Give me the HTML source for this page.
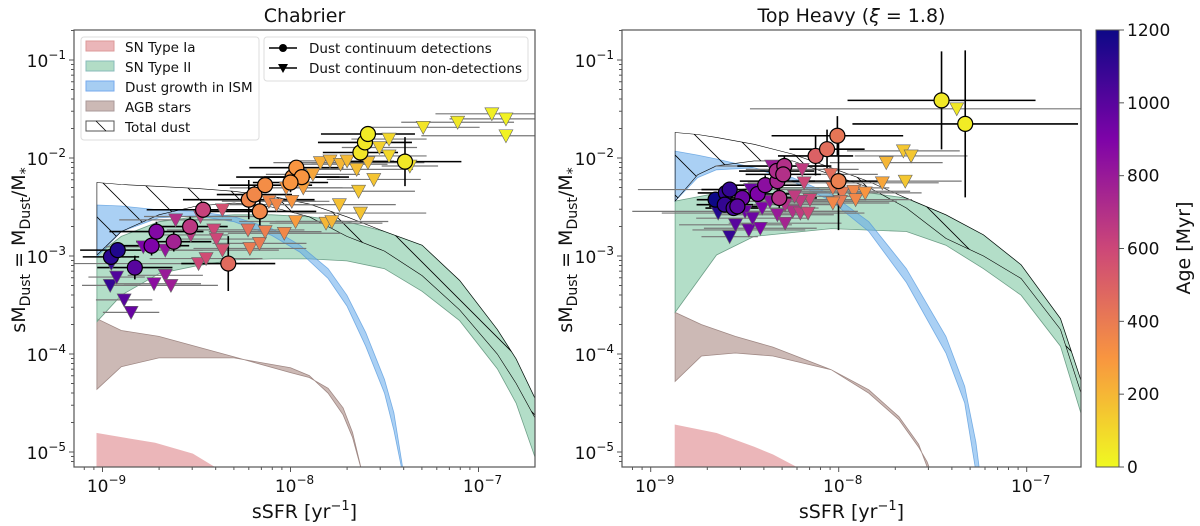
<!DOCTYPE html>
<html><head><meta charset="utf-8">
<style>
html,body{margin:0;padding:0;background:#fff;}
svg{display:block;font-family:"DejaVu Sans","Liberation Sans",sans-serif;}
</style></head>
<body>
<svg id="fig" width="1200" height="526" viewBox="0 0 1200 526" xmlns="http://www.w3.org/2000/svg">
<defs>
<pattern id="hatch" patternUnits="userSpaceOnUse" width="40" height="40">
<path d="M-10,-10 L50,50 M-10,30 L10,50 M30,-10 L50,10" stroke="#000" stroke-width="0.8"/>
</pattern>
<linearGradient id="cbgrad" x1="0" y1="1" x2="0" y2="0">
<stop offset="0" stop-color="#f0f921"/><stop offset="0.25" stop-color="#f89540"/>
<stop offset="0.5" stop-color="#cc4778"/><stop offset="0.75" stop-color="#7e03a8"/>
<stop offset="1" stop-color="#0d0887"/>
</linearGradient>
<clipPath id="clipL"><rect x="74" y="30" width="461" height="437"/></clipPath>
<clipPath id="clipR"><rect x="622" y="30" width="459" height="437"/></clipPath>
</defs>
</svg>
<script>
// ---------- data (log10 sSFR, log10 sMdust) ----------
const L_ia_x=[-9.03,-8.72,-8.52,-8.4];
const L_ia_hi=[-4.81,-4.91,-5.02,-5.16];
const L_agb_x=[-9.03,-8.9,-8.7,-8.3,-8.0,-7.9,-7.8,-7.72,-7.67,-7.62];
const L_agb_hi=[-3.64,-3.76,-3.82,-4.03,-4.19,-4.24,-4.35,-4.55,-4.80,-5.2];
const L_agb_lo=[-4.36,-4.13,-4.04,-4.04,-4.14,-4.22,-4.40,-4.62,-4.85,-5.2];
const L_sn2_x=[-9.03,-8.9,-8.7,-8.5,-8.3,-8.1,-7.9,-7.7,-7.5,-7.3,-7.1,-6.9,-6.8,-6.7];
const L_sn2_hi=[-2.99,-2.80,-2.65,-2.60,-2.58,-2.58,-2.60,-2.65,-2.75,-2.89,-3.25,-3.75,-4.05,-4.45];
const L_sn2_lo=[-3.67,-3.40,-3.18,-3.10,-3.04,-3.03,-3.03,-3.05,-3.13,-3.36,-3.66,-4.15,-4.5,-5.05];
const L_ism_x=[-9.03,-8.9,-8.7,-8.5,-8.3,-8.1,-7.95,-7.8,-7.7,-7.6,-7.5,-7.45,-7.4];
const L_ism_hi=[-2.48,-2.49,-2.53,-2.545,-2.60,-2.72,-2.89,-3.13,-3.40,-3.78,-4.26,-4.6,-5.2];
const L_ism_lo=[-3.01,-2.75,-2.61,-2.59,-2.65,-2.79,-2.96,-3.23,-3.51,-3.92,-4.40,-4.78,-5.25];
const L_tot_x=[-9.03,-8.9,-8.7,-8.5,-8.3,-8.1,-7.9,-7.7,-7.5,-7.3,-7.1,-6.9,-6.8,-6.7];
const L_tot_hi=[-2.25,-2.27,-2.29,-2.31,-2.34,-2.39,-2.47,-2.60,-2.75,-2.89,-3.25,-3.75,-4.05,-4.45];
const L_tot_lo=[-2.99,-2.75,-2.58,-2.49,-2.46,-2.50,-2.60,-2.80,-2.95,-3.2,-3.55,-4.0,-4.3,-4.65];
const R_ia_x=[-8.87,-8.65,-8.45,-8.35,-8.22];
const R_ia_hi=[-4.725,-4.81,-4.95,-5.03,-5.16];
const R_agb_x=[-8.87,-8.73,-8.55,-8.35,-8.04,-7.84,-7.68,-7.575,-7.53,-7.51];
const R_agb_hi=[-3.575,-3.70,-3.82,-3.93,-4.16,-4.40,-4.67,-4.95,-5.1,-5.2];
const R_agb_lo=[-4.28,-4.02,-3.99,-4.02,-4.16,-4.365,-4.64,-4.92,-5.15,-5.2];
const R_sn2_x=[-8.87,-8.65,-8.45,-8.04,-7.64,-7.43,-7.23,-7.03,-6.82,-6.706];
const R_sn2_hi=[-2.44,-2.36,-2.30,-2.30,-2.41,-2.58,-2.785,-3.09,-3.64,-4.30];
const R_sn2_lo=[-3.575,-2.99,-2.80,-2.72,-2.75,-2.89,-3.13,-3.40,-3.92,-4.64];
const R_ism_x=[-8.87,-8.75,-8.65,-8.45,-8.245,-8.04,-7.84,-7.64,-7.43,-7.33,-7.27,-7.25];
const R_ism_hi=[-1.93,-1.97,-2.01,-2.10,-2.20,-2.37,-2.65,-3.13,-3.82,-4.33,-4.9,-5.2];
const R_ism_lo=[-2.44,-2.20,-2.12,-2.10,-2.24,-2.44,-2.75,-3.27,-3.99,-4.50,-5.2,-5.3];
const R_tot_x=[-8.87,-8.75,-8.65,-8.45,-8.245,-8.04,-7.84,-7.64,-7.43,-7.23,-7.03,-6.82,-6.706];
const R_tot_hi=[-1.74,-1.76,-1.79,-1.86,-1.96,-2.10,-2.24,-2.41,-2.58,-2.785,-3.09,-3.64,-4.30];
const R_tot_lo=[-2.44,-2.17,-2.08,-2.03,-2.03,-2.17,-2.30,-2.51,-2.82,-3.0,-3.23,-3.75,-4.43];
const L_det_x=[-8.955,-8.919,-8.828,-8.739,-8.713,-8.621,-8.534,-8.465,-8.331,-8.222,-8.192,-8.163,-8.135,-7.989,-7.969,-7.940,-8.0,-7.628,-7.604,-7.588,-7.391];
const L_det_y=[-3.009,-2.940,-3.118,-2.895,-2.751,-2.854,-2.700,-2.528,-3.077,-2.425,-2.373,-2.545,-2.277,-2.195,-2.099,-2.195,-2.25,-1.944,-1.841,-1.755,-2.037];
const L_det_age=[1120,1150,1000,900,880,760,660,620,460,360,350,350,330,310,300,300,300,60,50,40,50];
const L_det_xerr=[0.15,0.2,0.2,0.2,0.25,0.2,0.2,0.3,0.25,0.35,0.2,0.3,0.25,0.3,0.25,0.2,0.2,0.2,0.25,0.25,0.3];
const L_det_yerr=[0.08,0.07,0.12,0.1,0.1,0.1,0.1,0.08,0.28,0.2,0.1,0.15,0.08,0.1,0.07,0.1,0.1,0.1,0.08,0.08,0.25];
const L_nd_x=[-8.959,-8.925,-8.885,-8.848,-8.953,-8.783,-8.726,-8.666,-8.636,-8.666,-8.611,-8.530,-8.479,-8.408,-8.394,-8.362,-8.362,-8.489,-8.449,-8.226,-8.216,-8.165,-8.135,-8.033,-8.115,-8.074,-7.993,-7.973,-7.932,-7.881,-8.023,-7.841,-7.790,-7.734,-7.699,-7.648,-7.588,-7.557,-7.638,-7.740,-7.628,-7.811,-7.780,-7.527,-7.476,-7.476,-7.365,-7.294,-7.111,-6.929,-6.854,-6.854];
const L_nd_y=[-3.300,-3.215,-3.448,-3.575,-3.077,-2.906,-3.283,-3.197,-3.300,-2.940,-2.631,-2.785,-2.597,-2.734,-2.827,-2.528,-2.940,-3.077,-3.026,-2.734,-2.923,-2.871,-2.751,-2.768,-2.442,-2.476,-2.442,-2.648,-2.305,-2.167,-2.305,-2.047,-2.030,-2.064,-2.030,-2.116,-2.047,-2.219,-2.339,-2.476,-2.562,-2.665,-2.648,-1.893,-1.807,-1.979,-2.082,-1.687,-1.635,-1.549,-1.601,-1.773];
const L_nd_age=[1100,1020,1000,960,1100,900,850,800,780,820,700,660,640,600,600,560,560,600,580,440,400,400,380,350,350,350,300,280,270,250,300,220,200,200,190,180,170,160,150,170,160,200,200,120,100,100,80,60,50,30,20,20];
const L_nd_xerr=[0.15,0.15,0.15,0.15,0.4,0.2,0.25,0.2,0.25,0.2,0.3,0.2,0.3,0.25,0.25,0.2,0.3,0.3,0.3,0.3,0.3,0.25,0.3,0.3,0.25,0.25,0.2,0.3,0.3,0.25,0.3,0.25,0.2,0.25,0.25,0.3,0.3,0.25,0.3,0.3,0.35,0.3,0.3,0.2,0.2,0.2,0.15,0.3,0.3,0.3,0.3,0.45];
const R_det_x=[-8.655,-8.600,-8.606,-8.559,-8.513,-8.580,-8.539,-8.431,-8.391,-8.326,-8.316,-8.330,-8.289,-8.295,-8.123,-8.062,-8.007,-8.001,-7.453,-7.327];
const R_det_y=[-2.425,-2.356,-2.476,-2.511,-2.408,-2.322,-2.494,-2.367,-2.277,-2.236,-2.408,-2.133,-2.082,-2.167,-1.979,-1.910,-1.773,-2.236,-1.412,-1.652];
const R_det_age=[1200,1100,1100,1050,950,1100,1000,900,850,750,700,720,700,700,500,450,420,380,50,40];
const R_det_xerr=[0.1,0.15,0.15,0.15,0.15,0.15,0.15,0.2,0.2,0.2,0.2,0.2,0.25,0.2,0.2,0.2,0.35,0.25,0.5,0.6];
const R_det_yerr=[0.08,0.08,0.08,0.08,0.08,0.08,0.08,0.08,0.1,0.1,0.1,0.1,0.1,0.1,0.2,0.2,0.2,0.5,0.5,0.75];
const R_nd_x=[-8.641,-8.580,-8.549,-8.478,-8.417,-8.468,-8.498,-8.407,-8.366,-8.356,-8.326,-8.285,-8.245,-8.204,-8.163,-8.153,-8.204,-8.184,-8.194,-8.042,-8.031,-7.981,-7.991,-8.031,-7.920,-7.910,-7.859,-7.768,-7.747,-7.656,-7.615,-7.646,-7.372,-8.235,-8.285,-8.458];
const R_nd_y=[-2.562,-2.803,-2.682,-2.734,-2.717,-2.322,-2.545,-2.511,-2.442,-2.082,-2.579,-2.665,-2.545,-2.562,-2.562,-2.425,-2.442,-2.253,-2.116,-2.167,-2.305,-2.356,-2.442,-2.459,-2.339,-2.425,-2.356,-2.253,-2.047,-1.927,-1.979,-2.236,-1.498,-2.391,-2.476,-2.614];
const R_nd_age=[1150,1100,1000,950,900,950,950,900,850,800,800,750,700,650,600,600,650,600,650,450,400,400,400,350,350,350,300,250,200,150,150,150,50,650,700,950];
const R_nd_xerr=[0.3,0.15,0.3,0.3,0.3,0.6,0.6,0.3,0.3,0.3,0.3,0.3,0.3,0.3,0.3,0.3,0.3,0.3,0.3,0.25,0.3,0.3,0.3,0.3,0.3,0.3,0.3,0.3,0.3,0.3,0.3,0.3,1.1,0.3,0.3,0.3];

const NS='http://www.w3.org/2000/svg';
const svg=document.getElementById('fig');
function el(tag,attrs,parent){const e=document.createElementNS(NS,tag);for(const k in attrs)e.setAttribute(k,attrs[k]);(parent||svg).appendChild(e);return e;}
const Y0=60, YD=98;
function ys(v){return Y0+(-1-v)*YD;}
function mkx(x9){return v=>x9+(v+9)*188;}
function plasma(age){
  const t=1-Math.max(0,Math.min(1200,age))/1200;
  const st=[[13,8,135],[126,3,168],[204,71,120],[248,149,64],[240,249,33]];
  const p=t*4,i=Math.min(3,Math.floor(p)),f=p-i;
  const c=st[i].map((a,k)=>Math.round(a+(st[i+1][k]-a)*f));
  return 'rgb('+c.join(',')+')';
}
function band(g,xs,xa,hi,lo,fill,stroke,name){
  let d='';
  xa.forEach((v,i)=>{d+=(i?'L':'M')+xs(v).toFixed(1)+','+ys(hi[i]).toFixed(1);});
  for(let i=xa.length-1;i>=0;i--){d+='L'+xs(xa[i]).toFixed(1)+','+ys(lo?lo[i]:-5.4).toFixed(1);}
  d+='Z';
  const p=el('path',{d:d,fill:fill,stroke:stroke,'stroke-width':0.8},g);
  
  
  return p;
}
function panel(P){
  const xs=mkx(P.x9);
  const g=el('g',{'clip-path':'url(#'+P.clip+')'});
  
  
  band(g,xs,P.ia[0],P.ia[1],null,'#ebb6b9','#ebb6b9','sn-type-ia-band');
  band(g,xs,P.agb[0],P.agb[1],P.agb[2],'#ccb9b5','#a08985','agb-band');
  band(g,xs,P.sn2[0],P.sn2[1],P.sn2[2],'rgba(138,204,170,0.65)','#6e9f88','sn-type-ii-band');
  band(g,xs,P.ism[0],P.ism[1],P.ism[2],'rgba(100,170,235,0.55)','rgba(80,150,220,0.7)','ism-growth-band');
  band(g,xs,P.tot[0],P.tot[1],P.tot[2],'url(#hatch)','#000','total-dust-band').setAttribute('stroke-width','0.6');
  P.nd[0].forEach((v,i)=>{
    const y=ys(P.nd[1][i]);
    const l=el('line',{x1:xs(v-P.nd[3][i]),x2:xs(v+P.nd[3][i]),y1:y,y2:y,stroke:'#777','stroke-width':1.2},g);
    
    
  });
  P.det[0].forEach((v,i)=>{
    const x=xs(v),y=ys(P.det[1][i]);
    const l=el('path',{d:'M'+xs(v-P.det[3][i])+','+y+'H'+xs(v+P.det[3][i])+'M'+x+','+ys(P.det[1][i]+P.det[4][i])+'V'+ys(P.det[1][i]-P.det[4][i]),stroke:'#000','stroke-width':1.6,fill:'none'},g);
    
    
  });
  P.nd[0].forEach((v,i)=>{
    const x=xs(v),y=ys(P.nd[1][i]);
    const t=el('path',{d:'M'+(x-7)+','+(y-6)+'L'+(x+7)+','+(y-6)+'L'+x+','+(y+7)+'Z',fill:plasma(P.nd[2][i]),stroke:'#666','stroke-width':0.6},g);
    
    
  });
  P.det[0].forEach((v,i)=>{
    const c=el('circle',{cx:xs(v),cy:ys(P.det[1][i]),r:7.5,fill:plasma(P.det[2][i]),stroke:'#000','stroke-width':1.2},g);
    
    
  });
  const fr=el('rect',{x:P.x0,y:30,width:P.x1-P.x0,height:437,fill:'none',stroke:'#555','stroke-width':1.2});
  
  
  for(let d=-10;d<=-7;d++){for(let m=1;m<10;m++){
    const v=d+Math.log10(m),x=xs(v); if(x<P.x0||x>P.x1)continue;
    el('line',{x1:x,x2:x,y1:467,y2:467+(m===1?5:3),stroke:'#555','stroke-width':1});
    if(m===1){const t=el('text',{x:x+4,y:492,'font-size':17,'text-anchor':'middle',fill:'#111'});
      
      t.innerHTML='10<tspan dy="-8" font-size="12">−'+(-d)+'</tspan>';}
  }}
  for(let d=-6;d<=-1;d++){for(let m=1;m<10;m++){
    const v=d+Math.log10(m),y=ys(v); if(y<30||y>467)continue;
    el('line',{x1:P.x0,x2:P.x0-(m===1?5:3),y1:y,y2:y,stroke:'#555','stroke-width':1});
    if(m===1&&P.ylabels){const t=el('text',{x:P.x0-8,y:y+7,'font-size':17,'text-anchor':'end',fill:'#111'});
      
      t.innerHTML='10<tspan dy="-8" font-size="12">−'+(-d)+'</tspan>';}
  }}
  const tt=el('text',{x:(P.x0+P.x1)/2,y:22,'font-size':19,'text-anchor':'middle',fill:'#111'});
  
  tt.innerHTML=P.title;
  const xl=el('text',{x:(P.x0+P.x1)/2,y:518,'font-size':19,'text-anchor':'middle',fill:'#111'});
  
  xl.innerHTML='sSFR [yr<tspan dy="-8" font-size="13">−1</tspan><tspan dy="8">]</tspan>';
  const yl=el('text',{transform:'translate('+P.ylx+',250) rotate(-90)','font-size':19,'text-anchor':'middle',fill:'#111'});
  
  yl.innerHTML='sM<tspan dy="5" font-size="14">Dust</tspan><tspan dy="-5"> = M</tspan><tspan dy="5" font-size="14">Dust</tspan><tspan dy="-5">/M</tspan><tspan dy="5" font-size="14">*</tspan>';
}
panel({name:'chabrier',x0:74,x1:535,x9:102.5,clip:'clipL',title:'Chabrier',ylabels:true,ylx:25,
  ia:[L_ia_x,L_ia_hi],agb:[L_agb_x,L_agb_hi,L_agb_lo],sn2:[L_sn2_x,L_sn2_hi,L_sn2_lo],ism:[L_ism_x,L_ism_hi,L_ism_lo],tot:[L_tot_x,L_tot_hi,L_tot_lo],
  det:[L_det_x,L_det_y,L_det_age,L_det_xerr,L_det_yerr],nd:[L_nd_x,L_nd_y,L_nd_age,L_nd_xerr]});
panel({name:'top-heavy',x0:622,x1:1081,x9:650.7,clip:'clipR',title:'Top Heavy (<tspan font-style="italic">ξ</tspan> = 1.8)',ylabels:true,ylx:572,
  ia:[R_ia_x,R_ia_hi],agb:[R_agb_x,R_agb_hi,R_agb_lo],sn2:[R_sn2_x,R_sn2_hi,R_sn2_lo],ism:[R_ism_x,R_ism_hi,R_ism_lo],tot:[R_tot_x,R_tot_hi,R_tot_lo],
  det:[R_det_x,R_det_y,R_det_age,R_det_xerr,R_det_yerr],nd:[R_nd_x,R_nd_y,R_nd_age,R_nd_xerr]});

const lg=el('g',{});

el('rect',{x:81,y:37,width:178,height:103,rx:3,fill:'rgba(255,255,255,0.85)',stroke:'#ddd'},lg);
const legItems=[['SN Type Ia','#ebb6b9','#d99'],['SN Type II','#b2dcc6','#8bb'],['Dust growth in ISM','#a6cdf2','#7ae'],['AGB stars','#ccb9b5','#a99'],['Total dust','#fff','#555']];
legItems.forEach((it,i)=>{
  const y=47+i*20;
  const r=el('rect',{x:86,y:y-6,width:28,height:10,fill:it[1],stroke:it[2],'stroke-width':1},lg);
  
  if(i===4)el('line',{x1:96,y1:y-6,x2:106,y2:y+4,stroke:'#000','stroke-width':0.8},lg);
  const t=el('text',{x:125,y:y+5,'font-size':13.5,fill:'#111'},lg);
  
  t.textContent=it[0];
});
const lg2=el('g',{});

el('rect',{x:264,y:37,width:264,height:44,rx:3,fill:'rgba(255,255,255,0.85)',stroke:'#ddd'},lg2);
['Dust continuum detections','Dust continuum non-detections'].forEach((s,i)=>{
  const y=48+i*20;
  el('line',{x1:269,x2:297,y1:y,y2:y,stroke:'#000','stroke-width':1.4},lg2);
  if(i===0)el('circle',{cx:283,cy:y,r:4,fill:'#000'},lg2);
  else el('path',{d:'M278,'+(y-4)+'L288,'+(y-4)+'L283,'+(y+5)+'Z',fill:'#000'},lg2);
  const t=el('text',{x:309,y:y+5,'font-size':13.5,fill:'#111'},lg2);
  
  t.textContent=s;
});

const cb=el('rect',{x:1096,y:30,width:23,height:437,fill:'url(#cbgrad)',stroke:'#555','stroke-width':1});

for(let a=0;a<=1200;a+=200){
  const y=467-a/1200*437;
  el('line',{x1:1119,x2:1124,y1:y,y2:y,stroke:'#555'});
  const t=el('text',{x:1127,y:y+6,'font-size':17,fill:'#111'});
  
  t.textContent=a;
}
const cl=el('text',{transform:'translate(1190,248) rotate(-90)','font-size':19,'text-anchor':'middle',fill:'#111'});

cl.textContent='Age [Myr]';
</script>
</body></html>
